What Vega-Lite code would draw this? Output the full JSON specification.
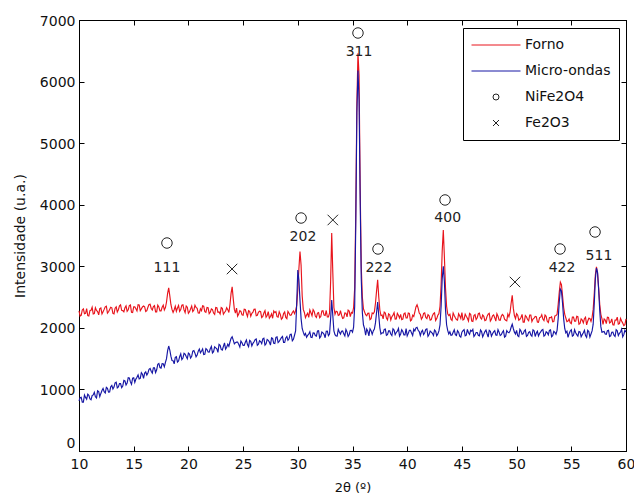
{
  "$schema": "https://vega.github.io/schema/vega-lite/v6.json",
  "width": 547,
  "height": 431,
  "autosize": "none",
  "padding": {"left": 79, "top": 20, "right": 8, "bottom": 51},
  "background": "white",
  "config": {
    "font": "DejaVu Sans",
    "view": {"stroke": "black"},
    "axis": {"grid": false, "domainColor": "black", "tickColor": "black", "labelColor": "#111111", "titleColor": "#111111", "labelFontSize": 14, "titleFontWeight": "normal", "tickSize": -5, "domainWidth": 1, "tickWidth": 1},
    "legend": {"orient": "none", "legendX": 384, "legendY": 8, "strokeColor": "black", "fillColor": "white", "padding": 8, "cornerRadius": 0, "symbolSize": 2401, "symbolStrokeWidth": 1, "clipHeight": 18, "rowPadding": 8, "labelFontSize": 14, "labelOffset": 4, "labelColor": "#111111"}
  },
  "datasets": {
    "xrd": [
      {"t":10.0,"Forno":2275,"Micro-ondas":815},{"t":10.2,"Forno":2204,"Micro-ondas":872},{"t":10.4,"Forno":2308,"Micro-ondas":794},{"t":10.6,"Forno":2237,"Micro-ondas":871},{"t":10.8,"Forno":2201,"Micro-ondas":923},
      {"t":11.0,"Forno":2280,"Micro-ondas":845},{"t":11.2,"Forno":2334,"Micro-ondas":899},{"t":11.4,"Forno":2233,"Micro-ondas":953},{"t":11.6,"Forno":2282,"Micro-ondas":862},{"t":11.8,"Forno":2211,"Micro-ondas":966},
      {"t":12.0,"Forno":2325,"Micro-ondas":935},{"t":12.2,"Forno":2263,"Micro-ondas":1016},{"t":12.4,"Forno":2341,"Micro-ondas":942},{"t":12.6,"Forno":2239,"Micro-ondas":1018},{"t":12.8,"Forno":2297,"Micro-ondas":959},
      {"t":13.0,"Forno":2325,"Micro-ondas":1065},{"t":13.2,"Forno":2228,"Micro-ondas":1039},{"t":13.4,"Forno":2341,"Micro-ondas":1118},{"t":13.6,"Forno":2294,"Micro-ondas":1042},{"t":13.8,"Forno":2372,"Micro-ondas":1096},
      {"t":14.0,"Forno":2280,"Micro-ondas":1055},{"t":14.2,"Forno":2326,"Micro-ondas":1137},{"t":14.4,"Forno":2267,"Micro-ondas":1104},{"t":14.6,"Forno":2363,"Micro-ondas":1186},{"t":14.8,"Forno":2254,"Micro-ondas":1083},
      {"t":15.0,"Forno":2340,"Micro-ondas":1190},{"t":15.2,"Forno":2311,"Micro-ondas":1168},{"t":15.4,"Forno":2377,"Micro-ondas":1236},{"t":15.6,"Forno":2278,"Micro-ondas":1179},{"t":15.8,"Forno":2339,"Micro-ondas":1247},
      {"t":16.0,"Forno":2340,"Micro-ondas":1265},{"t":16.2,"Forno":2280,"Micro-ondas":1233},{"t":16.4,"Forno":2380,"Micro-ondas":1326},{"t":16.6,"Forno":2315,"Micro-ondas":1294},{"t":16.8,"Forno":2345,"Micro-ondas":1352},
      {"t":17.0,"Forno":2260,"Micro-ondas":1275},{"t":17.2,"Forno":2370,"Micro-ondas":1408},{"t":17.4,"Forno":2275,"Micro-ondas":1356},{"t":17.6,"Forno":2335,"Micro-ondas":1419},{"t":17.8,"Forno":2290,"Micro-ondas":1367},
      {"t":17.9,"Forno":2330,"Micro-ondas":1440},{"t":18.0,"Forno":2420,"Micro-ondas":1500},{"t":18.1,"Forno":2560,"Micro-ondas":1630},{"t":18.2,"Forno":2650,"Micro-ondas":1705},{"t":18.3,"Forno":2520,"Micro-ondas":1640},
      {"t":18.4,"Forno":2380,"Micro-ondas":1540},{"t":18.5,"Forno":2300,"Micro-ondas":1470},{"t":18.6,"Forno":2250,"Micro-ondas":1467},{"t":18.8,"Forno":2350,"Micro-ondas":1521},
      {"t":19.0,"Forno":2323,"Micro-ondas":1445},{"t":19.2,"Forno":2266,"Micro-ondas":1532},{"t":19.4,"Forno":2369,"Micro-ondas":1484},{"t":19.6,"Forno":2292,"Micro-ondas":1586},{"t":19.8,"Forno":2355,"Micro-ondas":1533},
      {"t":20.0,"Forno":2235,"Micro-ondas":1590},{"t":20.2,"Forno":2309,"Micro-ondas":1508},{"t":20.4,"Forno":2263,"Micro-ondas":1621},{"t":20.6,"Forno":2367,"Micro-ondas":1589},{"t":20.8,"Forno":2316,"Micro-ondas":1557},
      {"t":21.0,"Forno":2240,"Micro-ondas":1655},{"t":21.2,"Forno":2279,"Micro-ondas":1623},{"t":21.4,"Forno":2353,"Micro-ondas":1566},{"t":21.6,"Forno":2252,"Micro-ondas":1664},{"t":21.8,"Forno":2326,"Micro-ondas":1607},
      {"t":22.0,"Forno":2255,"Micro-ondas":1660},{"t":22.2,"Forno":2297,"Micro-ondas":1593},{"t":22.4,"Forno":2219,"Micro-ondas":1691},{"t":22.6,"Forno":2326,"Micro-ondas":1659},{"t":22.8,"Forno":2258,"Micro-ondas":1732},
      {"t":23.0,"Forno":2330,"Micro-ondas":1650},{"t":23.2,"Forno":2222,"Micro-ondas":1700},{"t":23.4,"Forno":2274,"Micro-ondas":1655},{"t":23.6,"Forno":2296,"Micro-ondas":1735},{"t":23.7,"Forno":2250,"Micro-ondas":1700},
      {"t":23.8,"Forno":2380,"Micro-ondas":1770},{"t":23.9,"Forno":2560,"Micro-ondas":1830},{"t":24.0,"Forno":2665,"Micro-ondas":1855},{"t":24.1,"Forno":2470,"Micro-ondas":1800},{"t":24.2,"Forno":2300,"Micro-ondas":1740},
      {"t":24.3,"Forno":2240,"Micro-ondas":1760},{"t":24.4,"Forno":2321,"Micro-ondas":1768},{"t":24.6,"Forno":2224,"Micro-ondas":1732},{"t":24.8,"Forno":2267,"Micro-ondas":1786},
      {"t":25.0,"Forno":2205,"Micro-ondas":1715},{"t":25.2,"Forno":2298,"Micro-ondas":1767},{"t":25.4,"Forno":2186,"Micro-ondas":1729},{"t":25.6,"Forno":2269,"Micro-ondas":1796},{"t":25.8,"Forno":2237,"Micro-ondas":1708},
      {"t":26.0,"Forno":2300,"Micro-ondas":1775},{"t":26.2,"Forno":2196,"Micro-ondas":1819},{"t":26.4,"Forno":2252,"Micro-ondas":1733},{"t":26.6,"Forno":2263,"Micro-ondas":1777},{"t":26.8,"Forno":2184,"Micro-ondas":1821},
      {"t":27.0,"Forno":2280,"Micro-ondas":1720},{"t":27.2,"Forno":2201,"Micro-ondas":1812},{"t":27.4,"Forno":2157,"Micro-ondas":1769},{"t":27.6,"Forno":2228,"Micro-ondas":1836},{"t":27.8,"Forno":2274,"Micro-ondas":1748},
      {"t":28.0,"Forno":2265,"Micro-ondas":1845},{"t":28.2,"Forno":2172,"Micro-ondas":1763},{"t":28.4,"Forno":2219,"Micro-ondas":1811},{"t":28.6,"Forno":2161,"Micro-ondas":1859},{"t":28.8,"Forno":2258,"Micro-ondas":1762},
      {"t":29.0,"Forno":2150,"Micro-ondas":1860},{"t":29.2,"Forno":2237,"Micro-ondas":1823},{"t":29.4,"Forno":2209,"Micro-ondas":1896},{"t":29.6,"Forno":2276,"Micro-ondas":1814},{"t":29.7,"Forno":2230,"Micro-ondas":1880},
      {"t":29.8,"Forno":2280,"Micro-ondas":1950},{"t":29.9,"Forno":2360,"Micro-ondas":2400},{"t":30.0,"Forno":2620,"Micro-ondas":2940},{"t":30.1,"Forno":2960,"Micro-ondas":2780},{"t":30.2,"Forno":3240,"Micro-ondas":2450},
      {"t":30.3,"Forno":3020,"Micro-ondas":2150},{"t":30.4,"Forno":2520,"Micro-ondas":1990},{"t":30.5,"Forno":2300,"Micro-ondas":1930},{"t":30.6,"Forno":2250,"Micro-ondas":1880},{"t":30.8,"Forno":2207,"Micro-ondas":1848},
      {"t":31.0,"Forno":2170,"Micro-ondas":1900},{"t":31.2,"Forno":2246,"Micro-ondas":1847},{"t":31.4,"Forno":2297,"Micro-ondas":1919},{"t":31.6,"Forno":2193,"Micro-ondas":1876},{"t":31.8,"Forno":2239,"Micro-ondas":1948},
      {"t":32.0,"Forno":2165,"Micro-ondas":1835},{"t":32.2,"Forno":2274,"Micro-ondas":1932},{"t":32.4,"Forno":2208,"Micro-ondas":1894},{"t":32.6,"Forno":2282,"Micro-ondas":1946},{"t":32.8,"Forno":2176,"Micro-ondas":1873},
      {"t":32.9,"Forno":2240,"Micro-ondas":1900},{"t":33.0,"Forno":2750,"Micro-ondas":2150},{"t":33.1,"Forno":3540,"Micro-ondas":2450},{"t":33.2,"Forno":2900,"Micro-ondas":2200},{"t":33.3,"Forno":2330,"Micro-ondas":1950},
      {"t":33.4,"Forno":2220,"Micro-ondas":1890},{"t":33.6,"Forno":2263,"Micro-ondas":1866},{"t":33.8,"Forno":2212,"Micro-ondas":1933},
      {"t":34.0,"Forno":2205,"Micro-ondas":1945},{"t":34.2,"Forno":2164,"Micro-ondas":1902},{"t":34.4,"Forno":2238,"Micro-ondas":1974},{"t":34.6,"Forno":2287,"Micro-ondas":1861},{"t":34.8,"Forno":2181,"Micro-ondas":1958},
      {"t":34.9,"Forno":2250,"Micro-ondas":1960},{"t":35.0,"Forno":2240,"Micro-ondas":1930},{"t":35.1,"Forno":2330,"Micro-ondas":2010},{"t":35.2,"Forno":2650,"Micro-ondas":2350},{"t":35.3,"Forno":3900,"Micro-ondas":3700},
      {"t":35.4,"Forno":5650,"Micro-ondas":5500},{"t":35.5,"Forno":6460,"Micro-ondas":6180},{"t":35.6,"Forno":6100,"Micro-ondas":5700},{"t":35.7,"Forno":4300,"Micro-ondas":4100},{"t":35.8,"Forno":3000,"Micro-ondas":2800},
      {"t":35.9,"Forno":2500,"Micro-ondas":2250},{"t":36.0,"Forno":2310,"Micro-ondas":2050},{"t":36.1,"Forno":2260,"Micro-ondas":1990},{"t":36.2,"Forno":2213,"Micro-ondas":1880},{"t":36.4,"Forno":2236,"Micro-ondas":1945},
      {"t":36.6,"Forno":2134,"Micro-ondas":1985},{"t":36.8,"Forno":2242,"Micro-ondas":1895},{"t":36.9,"Forno":2230,"Micro-ondas":1950},{"t":37.0,"Forno":2260,"Micro-ondas":1980},{"t":37.1,"Forno":2400,"Micro-ondas":2080},
      {"t":37.2,"Forno":2600,"Micro-ondas":2250},{"t":37.3,"Forno":2780,"Micro-ondas":2420},{"t":37.4,"Forno":2500,"Micro-ondas":2200},{"t":37.5,"Forno":2290,"Micro-ondas":2000},{"t":37.6,"Forno":2200,"Micro-ondas":1900},
      {"t":37.8,"Forno":2147,"Micro-ondas":1915},{"t":38.0,"Forno":2240,"Micro-ondas":1980},{"t":38.2,"Forno":2129,"Micro-ondas":1890},{"t":38.4,"Forno":2213,"Micro-ondas":1950},{"t":38.6,"Forno":2182,"Micro-ondas":1875},
      {"t":38.8,"Forno":2246,"Micro-ondas":1965},{"t":39.0,"Forno":2145,"Micro-ondas":1925},{"t":39.2,"Forno":2204,"Micro-ondas":1990},{"t":39.4,"Forno":2218,"Micro-ondas":1900},{"t":39.6,"Forno":2142,"Micro-ondas":1940},
      {"t":39.8,"Forno":2241,"Micro-ondas":1885},{"t":40.0,"Forno":2160,"Micro-ondas":1870},{"t":40.2,"Forno":2235,"Micro-ondas":1960},{"t":40.4,"Forno":2130,"Micro-ondas":1915},{"t":40.6,"Forno":2185,"Micro-ondas":1980},
      {"t":40.7,"Forno":2260,"Micro-ondas":1950},{"t":40.8,"Forno":2340,"Micro-ondas":2000},{"t":40.9,"Forno":2375,"Micro-ondas":2010},{"t":41.0,"Forno":2320,"Micro-ondas":1960},{"t":41.1,"Forno":2240,"Micro-ondas":1940},
      {"t":41.2,"Forno":2220,"Micro-ondas":1874},{"t":41.4,"Forno":2170,"Micro-ondas":1961},{"t":41.6,"Forno":2245,"Micro-ondas":1920},{"t":41.8,"Forno":2150,"Micro-ondas":1984},{"t":42.0,"Forno":2195,"Micro-ondas":1893},
      {"t":42.2,"Forno":2135,"Micro-ondas":1932},{"t":42.4,"Forno":2230,"Micro-ondas":1876},{"t":42.6,"Forno":2120,"Micro-ondas":1945},{"t":42.8,"Forno":2205,"Micro-ondas":1899},{"t":42.9,"Forno":2230,"Micro-ondas":1950},
      {"t":43.0,"Forno":2350,"Micro-ondas":2050},{"t":43.1,"Forno":2700,"Micro-ondas":2350},{"t":43.2,"Forno":3250,"Micro-ondas":2800},{"t":43.3,"Forno":3590,"Micro-ondas":3000},{"t":43.4,"Forno":3150,"Micro-ondas":2750},
      {"t":43.5,"Forno":2650,"Micro-ondas":2300},{"t":43.6,"Forno":2350,"Micro-ondas":2050},{"t":43.7,"Forno":2230,"Micro-ondas":1960},{"t":43.8,"Forno":2200,"Micro-ondas":1900},{"t":44.0,"Forno":2140,"Micro-ondas":1880},
      {"t":44.2,"Forno":2240,"Micro-ondas":1930},{"t":44.4,"Forno":2164,"Micro-ondas":1890},{"t":44.6,"Forno":2124,"Micro-ondas":1955},{"t":44.8,"Forno":2198,"Micro-ondas":1865},{"t":45.0,"Forno":2248,"Micro-ondas":1930},
      {"t":45.2,"Forno":2142,"Micro-ondas":1970},{"t":45.4,"Forno":2187,"Micro-ondas":1880},{"t":45.6,"Forno":2111,"Micro-ondas":1920},{"t":45.8,"Forno":2221,"Micro-ondas":1960},{"t":46.0,"Forno":2105,"Micro-ondas":1975},
      {"t":46.2,"Forno":2215,"Micro-ondas":1885},{"t":46.4,"Forno":2164,"Micro-ondas":1925},{"t":46.6,"Forno":2239,"Micro-ondas":1870},{"t":46.8,"Forno":2143,"Micro-ondas":1940},{"t":47.0,"Forno":2188,"Micro-ondas":1895},
      {"t":47.2,"Forno":2127,"Micro-ondas":1965},{"t":47.4,"Forno":2222,"Micro-ondas":1850},{"t":47.6,"Forno":2111,"Micro-ondas":1945},{"t":47.8,"Forno":2196,"Micro-ondas":1905},{"t":48.0,"Forno":2165,"Micro-ondas":1955},
      {"t":48.2,"Forno":2229,"Micro-ondas":1880},{"t":48.4,"Forno":2128,"Micro-ondas":1930},{"t":48.6,"Forno":2187,"Micro-ondas":1890},{"t":48.8,"Forno":2201,"Micro-ondas":1955},{"t":49.0,"Forno":2125,"Micro-ondas":1865},
      {"t":49.2,"Forno":2224,"Micro-ondas":1930},{"t":49.3,"Forno":2180,"Micro-ondas":1920},{"t":49.4,"Forno":2250,"Micro-ondas":1950},{"t":49.5,"Forno":2400,"Micro-ondas":2010},{"t":49.6,"Forno":2530,"Micro-ondas":2060},
      {"t":49.7,"Forno":2320,"Micro-ondas":1990},{"t":49.8,"Forno":2200,"Micro-ondas":1930},{"t":49.9,"Forno":2150,"Micro-ondas":1900},{"t":50.0,"Forno":2230,"Micro-ondas":1960},{"t":50.2,"Forno":2124,"Micro-ondas":1856},
      {"t":50.4,"Forno":2168,"Micro-ondas":1947},{"t":50.6,"Forno":2092,"Micro-ondas":1902},{"t":50.8,"Forno":2201,"Micro-ondas":1968},{"t":51.0,"Forno":2135,"Micro-ondas":1878},{"t":51.2,"Forno":2209,"Micro-ondas":1938},
      {"t":51.4,"Forno":2103,"Micro-ondas":1864},{"t":51.6,"Forno":2157,"Micro-ondas":1954},{"t":51.8,"Forno":2181,"Micro-ondas":1915},{"t":52.0,"Forno":2090,"Micro-ondas":1870},{"t":52.2,"Forno":2174,"Micro-ondas":1934},
      {"t":52.4,"Forno":2143,"Micro-ondas":1973},{"t":52.6,"Forno":2207,"Micro-ondas":1882},{"t":52.8,"Forno":2106,"Micro-ondas":1921},{"t":53.0,"Forno":2165,"Micro-ondas":1960},{"t":53.2,"Forno":2179,"Micro-ondas":1854},
      {"t":53.4,"Forno":2103,"Micro-ondas":1943},{"t":53.6,"Forno":2202,"Micro-ondas":1897},{"t":53.7,"Forno":2220,"Micro-ondas":1960},{"t":53.8,"Forno":2380,"Micro-ondas":2150},{"t":53.9,"Forno":2580,"Micro-ondas":2420},
      {"t":54.0,"Forno":2740,"Micro-ondas":2630},{"t":54.1,"Forno":2700,"Micro-ondas":2600},{"t":54.2,"Forno":2520,"Micro-ondas":2400},{"t":54.3,"Forno":2330,"Micro-ondas":2150},{"t":54.4,"Forno":2220,"Micro-ondas":1990},
      {"t":54.5,"Forno":2160,"Micro-ondas":1920},{"t":54.6,"Forno":2101,"Micro-ondas":1945},{"t":54.8,"Forno":2144,"Micro-ondas":1905},{"t":55.0,"Forno":2067,"Micro-ondas":1970},{"t":55.2,"Forno":2175,"Micro-ondas":1880},
      {"t":55.4,"Forno":2108,"Micro-ondas":1920},{"t":55.6,"Forno":2181,"Micro-ondas":1865},{"t":55.8,"Forno":2073,"Micro-ondas":1935},{"t":56.0,"Forno":2125,"Micro-ondas":1890},{"t":56.2,"Forno":2149,"Micro-ondas":1960},
      {"t":56.4,"Forno":2048,"Micro-ondas":1845},{"t":56.6,"Forno":2157,"Micro-ondas":1940},{"t":56.8,"Forno":2106,"Micro-ondas":1900},{"t":56.9,"Forno":2170,"Micro-ondas":1950},{"t":57.0,"Forno":2300,"Micro-ondas":2060},
      {"t":57.1,"Forno":2560,"Micro-ondas":2400},{"t":57.2,"Forno":2860,"Micro-ondas":2800},{"t":57.3,"Forno":2990,"Micro-ondas":2970},{"t":57.4,"Forno":2880,"Micro-ondas":2900},{"t":57.5,"Forno":2650,"Micro-ondas":2620},
      {"t":57.6,"Forno":2380,"Micro-ondas":2280},{"t":57.7,"Forno":2220,"Micro-ondas":2020},{"t":57.8,"Forno":2150,"Micro-ondas":1930},{"t":58.0,"Forno":2145,"Micro-ondas":1940},{"t":58.2,"Forno":2069,"Micro-ondas":1896},
      {"t":58.4,"Forno":2168,"Micro-ondas":1961},{"t":58.6,"Forno":2092,"Micro-ondas":1871},{"t":58.8,"Forno":2051,"Micro-ondas":1932},{"t":59.0,"Forno":2125,"Micro-ondas":1860},{"t":59.2,"Forno":2174,"Micro-ondas":1951},
      {"t":59.4,"Forno":2068,"Micro-ondas":1911},{"t":59.6,"Forno":2112,"Micro-ondas":1978},{"t":59.8,"Forno":2036,"Micro-ondas":1890},{"t":60.0,"Forno":2145,"Micro-ondas":1930},
      {"t":10.1,"Forno":2192,"Micro-ondas":866},{"t":10.3,"Forno":2291,"Micro-ondas":793},{"t":10.5,"Forno":2230,"Micro-ondas":910},{"t":10.7,"Forno":2314,"Micro-ondas":842},{"t":10.9,"Forno":2193,"Micro-ondas":904},
      {"t":11.1,"Forno":2287,"Micro-ondas":832},{"t":11.3,"Forno":2226,"Micro-ondas":911},{"t":11.5,"Forno":2325,"Micro-ondas":880},{"t":11.7,"Forno":2264,"Micro-ondas":979},{"t":11.9,"Forno":2313,"Micro-ondas":883},
      {"t":12.1,"Forno":2227,"Micro-ondas":983},{"t":12.3,"Forno":2300,"Micro-ondas":964},{"t":12.5,"Forno":2353,"Micro-ondas":1035},{"t":12.7,"Forno":2261,"Micro-ondas":956},{"t":12.9,"Forno":2334,"Micro-ondas":1042},
      {"t":13.1,"Forno":2237,"Micro-ondas":1007},{"t":13.3,"Forno":2320,"Micro-ondas":1106},{"t":13.5,"Forno":2258,"Micro-ondas":1025},{"t":13.7,"Forno":2356,"Micro-ondas":1094},{"t":13.9,"Forno":2284,"Micro-ondas":1028},
      {"t":14.1,"Forno":2260,"Micro-ondas":1146},{"t":14.3,"Forno":2356,"Micro-ondas":1073},{"t":14.5,"Forno":2292,"Micro-ondas":1190},{"t":14.7,"Forno":2373,"Micro-ondas":1122},{"t":14.9,"Forno":2249,"Micro-ondas":1184},
      {"t":15.1,"Forno":2340,"Micro-ondas":1114},{"t":15.3,"Forno":2276,"Micro-ondas":1197},{"t":15.5,"Forno":2372,"Micro-ondas":1170},{"t":15.7,"Forno":2308,"Micro-ondas":1273},{"t":15.9,"Forno":2354,"Micro-ondas":1181},
      {"t":16.1,"Forno":2265,"Micro-ondas":1284},{"t":16.3,"Forno":2335,"Micro-ondas":1267},{"t":16.5,"Forno":2385,"Micro-ondas":1340},{"t":16.7,"Forno":2290,"Micro-ondas":1263},{"t":16.9,"Forno":2360,"Micro-ondas":1351},
      {"t":17.1,"Forno":2260,"Micro-ondas":1319},{"t":17.3,"Forno":2340,"Micro-ondas":1422},{"t":17.5,"Forno":2275,"Micro-ondas":1345},{"t":17.7,"Forno":2370,"Micro-ondas":1418},
      {"t":18.7,"Forno":2295,"Micro-ondas":1414},{"t":18.9,"Forno":2270,"Micro-ondas":1533},{"t":19.1,"Forno":2363,"Micro-ondas":1461},{"t":19.3,"Forno":2296,"Micro-ondas":1578},{"t":19.5,"Forno":2374,"Micro-ondas":1510},
      {"t":19.7,"Forno":2247,"Micro-ondas":1572},{"t":19.9,"Forno":2335,"Micro-ondas":1499},{"t":20.1,"Forno":2260,"Micro-ondas":1574},{"t":20.3,"Forno":2354,"Micro-ondas":1537},{"t":20.5,"Forno":2288,"Micro-ondas":1630},
      {"t":20.7,"Forno":2332,"Micro-ondas":1528},{"t":20.9,"Forno":2241,"Micro-ondas":1621},{"t":21.1,"Forno":2310,"Micro-ondas":1594},{"t":21.3,"Forno":2359,"Micro-ondas":1657},{"t":21.5,"Forno":2263,"Micro-ondas":1570},
      {"t":21.7,"Forno":2332,"Micro-ondas":1648},{"t":21.9,"Forno":2231,"Micro-ondas":1606},{"t":22.1,"Forno":2308,"Micro-ondas":1699},{"t":22.3,"Forno":2240,"Micro-ondas":1612},{"t":22.5,"Forno":2332,"Micro-ondas":1675},
      {"t":22.7,"Forno":2254,"Micro-ondas":1603},{"t":22.9,"Forno":2226,"Micro-ondas":1716},{"t":23.1,"Forno":2318,"Micro-ondas":1640},{"t":23.3,"Forno":2250,"Micro-ondas":1755},{"t":23.5,"Forno":2327,"Micro-ondas":1685},
      {"t":24.5,"Forno":2190,"Micro-ondas":1770},{"t":24.7,"Forno":2278,"Micro-ondas":1689},{"t":24.9,"Forno":2211,"Micro-ondas":1758},{"t":25.1,"Forno":2304,"Micro-ondas":1716},{"t":25.3,"Forno":2237,"Micro-ondas":1803},
      {"t":25.5,"Forno":2280,"Micro-ondas":1695},{"t":25.7,"Forno":2188,"Micro-ondas":1782},{"t":25.9,"Forno":2256,"Micro-ondas":1749},{"t":26.1,"Forno":2303,"Micro-ondas":1807},{"t":26.3,"Forno":2204,"Micro-ondas":1716},
      {"t":26.5,"Forno":2270,"Micro-ondas":1790},{"t":26.7,"Forno":2166,"Micro-ondas":1744},{"t":26.9,"Forno":2242,"Micro-ondas":1833},{"t":27.1,"Forno":2173,"Micro-ondas":1741},{"t":27.3,"Forno":2264,"Micro-ondas":1798},
      {"t":27.5,"Forno":2185,"Micro-ondas":1720},{"t":27.7,"Forno":2156,"Micro-ondas":1827},{"t":27.9,"Forno":2247,"Micro-ondas":1744},{"t":28.1,"Forno":2181,"Micro-ondas":1854},{"t":28.3,"Forno":2263,"Micro-ondas":1782},
      {"t":28.5,"Forno":2140,"Micro-ondas":1840},{"t":28.7,"Forno":2232,"Micro-ondas":1763},{"t":28.9,"Forno":2169,"Micro-ondas":1836},{"t":29.1,"Forno":2266,"Micro-ondas":1799},{"t":29.3,"Forno":2203,"Micro-ondas":1892},
      {"t":29.5,"Forno":2250,"Micro-ondas":1790},
      {"t":30.7,"Forno":2166,"Micro-ondas":1909},{"t":30.9,"Forno":2238,"Micro-ondas":1878},{"t":31.1,"Forno":2290,"Micro-ondas":1936},{"t":31.3,"Forno":2196,"Micro-ondas":1843},{"t":31.5,"Forno":2267,"Micro-ondas":1915},
      {"t":31.7,"Forno":2168,"Micro-ondas":1867},{"t":31.9,"Forno":2249,"Micro-ondas":1954},{"t":32.1,"Forno":2184,"Micro-ondas":1861},{"t":32.3,"Forno":2278,"Micro-ondas":1918},{"t":32.5,"Forno":2202,"Micro-ondas":1840},
      {"t":32.7,"Forno":2176,"Micro-ondas":1947},
      {"t":33.5,"Forno":2269,"Micro-ondas":1870},{"t":33.7,"Forno":2202,"Micro-ondas":1977},{"t":33.9,"Forno":2281,"Micro-ondas":1899},{"t":34.1,"Forno":2154,"Micro-ondas":1951},{"t":34.3,"Forno":2243,"Micro-ondas":1868},
      {"t":34.5,"Forno":2177,"Micro-ondas":1935},{"t":34.7,"Forno":2271,"Micro-ondas":1892},
      {"t":36.3,"Forno":2197,"Micro-ondas":1980},{"t":36.5,"Forno":2240,"Micro-ondas":1870},{"t":36.7,"Forno":2148,"Micro-ondas":1955},
      {"t":37.7,"Forno":2208,"Micro-ondas":1920},{"t":37.9,"Forno":2256,"Micro-ondas":1975},{"t":38.1,"Forno":2160,"Micro-ondas":1880},{"t":38.3,"Forno":2229,"Micro-ondas":1950},{"t":38.5,"Forno":2128,"Micro-ondas":1900},
      {"t":38.7,"Forno":2207,"Micro-ondas":1985},{"t":38.9,"Forno":2141,"Micro-ondas":1890},{"t":39.1,"Forno":2235,"Micro-ondas":1945},{"t":39.3,"Forno":2159,"Micro-ondas":1865},{"t":39.5,"Forno":2133,"Micro-ondas":1970},
      {"t":39.7,"Forno":2227,"Micro-ondas":1885},{"t":39.9,"Forno":2161,"Micro-ondas":1990},{"t":40.1,"Forno":2240,"Micro-ondas":1910},{"t":40.3,"Forno":2115,"Micro-ondas":1960},{"t":40.5,"Forno":2205,"Micro-ondas":1875},
      {"t":41.3,"Forno":2140,"Micro-ondas":1937},{"t":41.5,"Forno":2235,"Micro-ondas":1891},{"t":41.7,"Forno":2170,"Micro-ondas":1975},{"t":41.9,"Forno":2215,"Micro-ondas":1864},{"t":42.1,"Forno":2125,"Micro-ondas":1948},
      {"t":42.3,"Forno":2195,"Micro-ondas":1912},{"t":42.5,"Forno":2245,"Micro-ondas":1966},{"t":42.7,"Forno":2150,"Micro-ondas":1870},
      {"t":43.9,"Forno":2220,"Micro-ondas":1935},{"t":44.1,"Forno":2120,"Micro-ondas":1885},{"t":44.3,"Forno":2200,"Micro-ondas":1970},{"t":44.5,"Forno":2134,"Micro-ondas":1875},{"t":44.7,"Forno":2229,"Micro-ondas":1930},
      {"t":44.9,"Forno":2153,"Micro-ondas":1850},{"t":45.1,"Forno":2128,"Micro-ondas":1955},{"t":45.3,"Forno":2222,"Micro-ondas":1870},{"t":45.5,"Forno":2157,"Micro-ondas":1975},{"t":45.7,"Forno":2236,"Micro-ondas":1895},
      {"t":45.9,"Forno":2111,"Micro-ondas":1945},{"t":46.1,"Forno":2200,"Micro-ondas":1860},{"t":46.3,"Forno":2135,"Micro-ondas":1925},{"t":46.5,"Forno":2229,"Micro-ondas":1880},{"t":46.7,"Forno":2164,"Micro-ondas":1965},
      {"t":46.9,"Forno":2208,"Micro-ondas":1855},{"t":47.1,"Forno":2118,"Micro-ondas":1940},{"t":47.3,"Forno":2187,"Micro-ondas":1905},{"t":47.5,"Forno":2237,"Micro-ondas":1960},{"t":47.7,"Forno":2141,"Micro-ondas":1865},
      {"t":47.9,"Forno":2211,"Micro-ondas":1935},{"t":48.1,"Forno":2110,"Micro-ondas":1885},{"t":48.3,"Forno":2189,"Micro-ondas":1970},{"t":48.5,"Forno":2123,"Micro-ondas":1875},{"t":48.7,"Forno":2217,"Micro-ondas":1930},
      {"t":48.9,"Forno":2141,"Micro-ondas":1850},{"t":49.1,"Forno":2115,"Micro-ondas":1955},
      {"t":50.1,"Forno":2205,"Micro-ondas":1871},{"t":50.3,"Forno":2139,"Micro-ondas":1976},{"t":50.5,"Forno":2218,"Micro-ondas":1897},{"t":50.7,"Forno":2092,"Micro-ondas":1947},{"t":50.9,"Forno":2181,"Micro-ondas":1863},
      {"t":51.1,"Forno":2115,"Micro-ondas":1928},{"t":51.3,"Forno":2209,"Micro-ondas":1884},{"t":51.5,"Forno":2143,"Micro-ondas":1969},{"t":51.7,"Forno":2187,"Micro-ondas":1860},{"t":51.9,"Forno":2096,"Micro-ondas":1945},
      {"t":52.1,"Forno":2165,"Micro-ondas":1909},{"t":52.3,"Forno":2214,"Micro-ondas":1963},{"t":52.5,"Forno":2118,"Micro-ondas":1867},{"t":52.7,"Forno":2187,"Micro-ondas":1936},{"t":52.9,"Forno":2086,"Micro-ondas":1885},
      {"t":53.1,"Forno":2165,"Micro-ondas":1969},{"t":53.3,"Forno":2099,"Micro-ondas":1873},{"t":53.5,"Forno":2193,"Micro-ondas":1927},
      {"t":54.7,"Forno":2110,"Micro-ondas":1845},{"t":54.9,"Forno":2083,"Micro-ondas":1950},{"t":55.1,"Forno":2176,"Micro-ondas":1865},{"t":55.3,"Forno":2109,"Micro-ondas":1970},{"t":55.5,"Forno":2187,"Micro-ondas":1890},
      {"t":55.7,"Forno":2060,"Micro-ondas":1940},{"t":55.9,"Forno":2146,"Micro-ondas":1855},{"t":56.1,"Forno":2080,"Micro-ondas":1920},{"t":56.3,"Forno":2174,"Micro-ondas":1875},{"t":56.5,"Forno":2108,"Micro-ondas":1960},
      {"t":56.7,"Forno":2152,"Micro-ondas":1850},
      {"t":57.9,"Forno":2056,"Micro-ondas":1935},{"t":58.1,"Forno":2125,"Micro-ondas":1900},{"t":58.3,"Forno":2174,"Micro-ondas":1955},{"t":58.5,"Forno":2078,"Micro-ondas":1860},{"t":58.7,"Forno":2147,"Micro-ondas":1930},
      {"t":58.9,"Forno":2046,"Micro-ondas":1882},{"t":59.1,"Forno":2125,"Micro-ondas":1970},{"t":59.3,"Forno":2059,"Micro-ondas":1875},{"t":59.5,"Forno":2153,"Micro-ondas":1932},{"t":59.7,"Forno":2077,"Micro-ondas":1853},
      {"t":59.9,"Forno":2051,"Micro-ondas":1960}
    ],
    "peaks": [
      {"t":18.04,"y":3378,"series":"NiFe2O4","hkl":"111","ht":18.04,"hy":2972},
      {"t":23.99,"y":2956,"series":"Fe2O3","hkl":""},
      {"t":30.3,"y":3784,"series":"NiFe2O4","hkl":"202","ht":30.47,"hy":3475},
      {"t":33.2,"y":3752,"series":"Fe2O3","hkl":""},
      {"t":35.5,"y":6789,"series":"NiFe2O4","hkl":"311","ht":35.6,"hy":6480},
      {"t":37.33,"y":3281,"series":"NiFe2O4","hkl":"222","ht":37.4,"hy":2972},
      {"t":43.46,"y":4077,"series":"NiFe2O4","hkl":"400","ht":43.7,"hy":3784},
      {"t":49.85,"y":2745,"series":"Fe2O3","hkl":""},
      {"t":53.97,"y":3281,"series":"NiFe2O4","hkl":"422","ht":54.15,"hy":2972},
      {"t":57.17,"y":3557,"series":"NiFe2O4","hkl":"511","ht":57.53,"hy":3167}
    ]
  },
  "resolve": {"axis": {"x": "independent", "y": "independent"}},
  "layer": [
    {
      "data": {"name": "xrd"},
      "transform": [{"fold": ["Forno", "Micro-ondas"], "as": ["series", "I"]}],
      "mark": {"type": "line", "strokeWidth": 1.15},
      "encoding": {
        "x": {
          "field": "t", "type": "quantitative",
          "scale": {"domain": [10, 60], "nice": false, "zero": false},
          "axis": {"orient": "bottom", "values": [10, 15, 20, 25, 30, 35, 40, 45, 50, 55, 60], "title": "2θ (º)", "titleFontSize": 13, "titlePadding": 10, "labelPadding": 11, "labelFlush": false}
        },
        "y": {
          "field": "I", "type": "quantitative",
          "scale": {"domain": [0, 7000], "nice": false},
          "axis": {"orient": "left", "values": [0, 1000, 2000, 3000, 4000, 5000, 6000, 7000], "format": "d", "title": "Intensidade (u.a.)", "titleFontSize": 14, "titlePadding": 12, "labelPadding": 9,
                   "labelOffset": {"condition": {"test": "datum.value == 0", "value": -8}, "value": 1}}
        },
        "color": {
          "field": "series", "type": "nominal",
          "scale": {"domain": ["Forno", "Micro-ondas", "NiFe2O4", "Fe2O3"], "range": ["#e8141c", "#1616a4", "#222222", "#222222"]},
          "legend": {
            "title": null,
            "encode": {"symbols": {"update": {"size": {"signal": "datum.value == 'NiFe2O4' || datum.value == 'Fe2O3' ? 36 : 2401"}, "fill": {"value": "transparent"}}}}
          }
        }
      }
    },
    {
      "data": {"name": "peaks"},
      "mark": {"type": "point", "filled": false, "size": 110, "strokeWidth": 1, "opacity": 1},
      "encoding": {
        "x": {
          "field": "t", "type": "quantitative",
          "scale": {"domain": [10, 60], "nice": false, "zero": false},
          "axis": {"orient": "top", "values": [10, 15, 20, 25, 30, 35, 40, 45, 50, 55, 60], "labels": false, "title": null}
        },
        "y": {
          "field": "y", "type": "quantitative",
          "scale": {"domain": [0, 7000], "nice": false},
          "axis": {"orient": "right", "values": [0, 1000, 2000, 3000, 4000, 5000, 6000, 7000], "labels": false, "title": null}
        },
        "color": {
          "field": "series", "type": "nominal",
          "scale": {"domain": ["Forno", "Micro-ondas", "NiFe2O4", "Fe2O3"], "range": ["#e8141c", "#1616a4", "#222222", "#222222"]},
          "legend": {
            "title": null,
            "encode": {"symbols": {"update": {"size": {"signal": "datum.value == 'NiFe2O4' || datum.value == 'Fe2O3' ? 36 : 2401"}, "fill": {"value": "transparent"}}}}
          }
        },
        "shape": {
          "field": "series", "type": "nominal",
          "scale": {"domain": ["Forno", "Micro-ondas", "NiFe2O4", "Fe2O3"], "range": ["stroke", "stroke", "circle", "M-1,-1L1,1M-1,1L1,-1"]},
          "legend": {
            "title": null,
            "encode": {"symbols": {"update": {"size": {"signal": "datum.value == 'NiFe2O4' || datum.value == 'Fe2O3' ? 36 : 2401"}, "fill": {"value": "transparent"}}}}
          }
        }
      }
    },
    {
      "data": {"name": "peaks"},
      "transform": [{"filter": "datum.hkl != ''"}],
      "mark": {"type": "text", "fontSize": 14, "color": "#222222", "align": "center", "baseline": "middle"},
      "encoding": {
        "x": {"field": "ht", "type": "quantitative", "scale": {"domain": [10, 60], "nice": false, "zero": false}, "axis": null},
        "y": {"field": "hy", "type": "quantitative", "scale": {"domain": [0, 7000], "nice": false}, "axis": null},
        "text": {"field": "hkl"}
      }
    }
  ]
}
